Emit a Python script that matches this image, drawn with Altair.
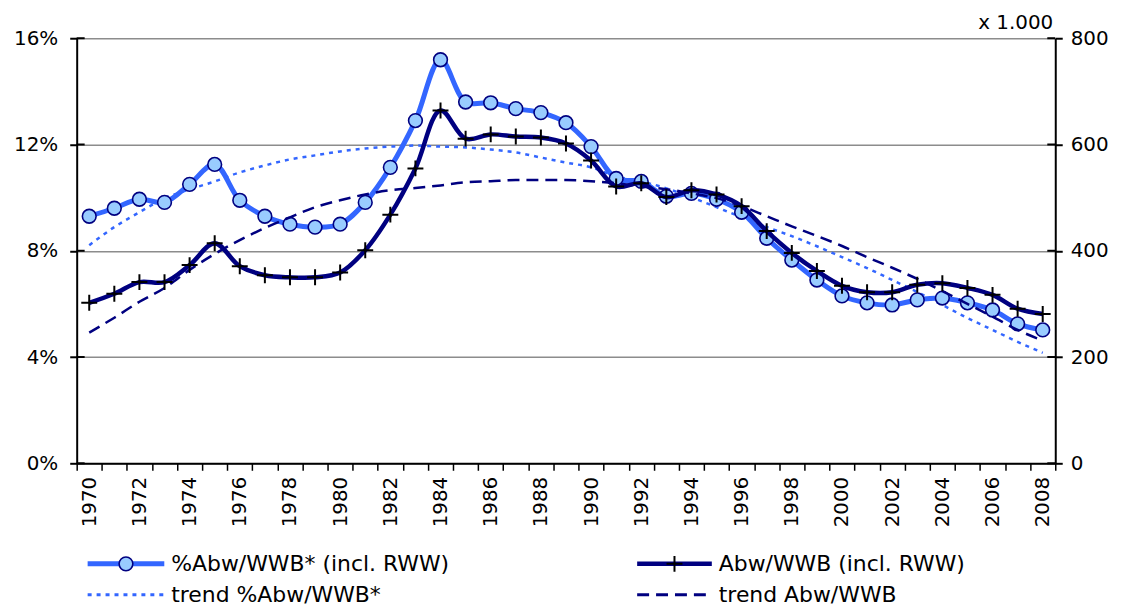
import altair as alt
import pandas as pd

years = list(range(1970, 2009))
pct = [9.3, 9.6, 9.94, 9.82, 10.5, 11.25, 9.9, 9.3, 9.0, 8.89,
       9.0, 9.82, 11.14, 12.9, 15.19, 13.6, 13.57, 13.35, 13.2, 12.82,
       11.92, 10.72, 10.61, 10.05, 10.16, 9.94, 9.45, 8.47, 7.65, 6.9,
       6.3, 6.04, 5.96, 6.15, 6.22, 6.04, 5.77, 5.25, 5.02]
abw = [302, 319, 341, 341, 373, 414, 371, 354, 350, 350,
       359, 401, 468, 555, 664, 611, 619, 615, 613, 602,
       570, 521, 527, 501, 514, 506, 484, 437, 396, 362,
       334, 322, 322, 336, 339, 330, 317, 291, 281]
trend_pct = [8.21, 8.89, 9.45, 9.97, 10.31, 10.61, 10.95, 11.21, 11.44, 11.59,
             11.74, 11.85, 11.92, 11.96, 11.92, 11.89, 11.81, 11.7, 11.51, 11.32,
             11.14, 10.8, 10.61, 10.35, 10.01, 9.64, 9.26, 8.89, 8.55, 8.17,
             7.76, 7.35, 6.9, 6.45, 5.96, 5.47, 5.02, 4.57, 4.16]
trend_abw = [246, 274, 304, 330, 364, 394, 420, 443, 463, 482,
             495, 506, 514, 518, 523, 529, 531, 533, 533, 533,
             531, 527, 521, 516, 508, 499, 484, 465, 446, 428,
             409, 388, 368, 347, 324, 300, 276, 251, 231]
left_ticks = [0, 4, 8, 12, 16]
right_ticks = [0, 200, 400, 600, 800]
legend_labels = ["%Abw/WWB* (incl. RWW)", "Abw/WWB (incl. RWW)",
                 "trend %Abw/WWB*", "trend Abw/WWB"]
unit_label = "x 1.000"

LIGHT = "#3366FF"
NAVY = "#000080"
FILL = "#99CCFF"
FONT = "DejaVu Sans"
W, H = 983, 427

df = pd.DataFrame({"year": years, "pct": pct, "abw": abw,
                   "tpct": trend_pct, "tabw": trend_abw})

X = alt.X("year:O",
          scale=alt.Scale(type="band", paddingInner=0, paddingOuter=0),
          bandPosition=0.5,
          axis=alt.Axis(title=None, tickBand="extent",
                        labelExpr="datum.value % 2 == 0 ? datum.label : ''",
                        labelAngle=270, labelFontSize=20, labelFont=FONT,
                        labelColor="black", labelPadding=6,
                        tickSize=7, tickColor="black", tickWidth=1.5,
                        domainColor="black", domainWidth=2, grid=False))

yl_scale = alt.Scale(domain=[0, 16], nice=False, zero=True)
yl_axis = alt.Axis(title=None, values=left_ticks, labelExpr="datum.value + '%'",
                   labelFontSize=20, labelFont=FONT, labelColor="black",
                   labelPadding=12, tickSize=7, tickColor="black", tickWidth=2,
                   domainColor="black", domainWidth=2, grid=True,
                   gridColor="#8c8c8c", gridWidth=1.5)
yr_scale = alt.Scale(domain=[0, 800], nice=False, zero=True)
yr_axis = alt.Axis(title=None, orient="right", values=right_ticks,
                   labelFontSize=20, labelFont=FONT, labelColor="black",
                   labelPadding=8, tickSize=7, tickColor="black", tickWidth=2,
                   domainColor="black", domainWidth=2, grid=False)

base = alt.Chart(df)

# left-axis group (percent)
trend_l = base.mark_line(color=LIGHT, strokeWidth=2.5, strokeDash=[4, 5],
                         interpolate="monotone").encode(
    x=X, y=alt.Y("tpct:Q", scale=yl_scale, axis=yl_axis))
line_l = base.mark_line(color=LIGHT, strokeWidth=5, interpolate="catmull-rom").encode(
    x=X, y=alt.Y("pct:Q", scale=yl_scale, axis=yl_axis))
pts_l = base.mark_point(shape="circle", filled=True, fill=FILL, stroke=NAVY,
                        strokeWidth=1.6, size=190, opacity=1).encode(
    x=X, y=alt.Y("pct:Q", scale=yl_scale, axis=yl_axis))
tick_l = alt.Chart(pd.DataFrame({"pct": left_ticks})).mark_rule(
    color="black", strokeWidth=2).encode(
    y=alt.Y("pct:Q", scale=yl_scale, axis=yl_axis),
    x=alt.value(0), x2=alt.value(8))
left = alt.layer(trend_l, line_l, pts_l, tick_l)

# right-axis group (x 1000)
trend_r = base.mark_line(color=NAVY, strokeWidth=2.5, strokeDash=[12, 7],
                         interpolate="monotone").encode(
    x=X, y=alt.Y("tabw:Q", scale=yr_scale, axis=yr_axis))
line_r = base.mark_line(color=NAVY, strokeWidth=4.5, interpolate="catmull-rom").encode(
    x=X, y=alt.Y("abw:Q", scale=yr_scale, axis=yr_axis))
pts_r = base.mark_point(shape="M-1,0H1M0,-1V1", filled=False, stroke="black",
                        strokeWidth=2, size=256, opacity=1).encode(
    x=X, y=alt.Y("abw:Q", scale=yr_scale, axis=yr_axis))
tick_r = alt.Chart(pd.DataFrame({"abw": right_ticks})).mark_rule(
    color="black", strokeWidth=2).encode(
    y=alt.Y("abw:Q", scale=yr_scale, axis=yr_axis),
    x=alt.value(W - 8), x2=alt.value(W))
right = alt.layer(trend_r, line_r, pts_r, tick_r)

# unit label and legend
def one(label):
    return alt.Chart(pd.DataFrame({"t": [label]}))

unit = one(unit_label).mark_text(align="right", baseline="middle", fontSize=20,
                                 font=FONT, color="black").encode(
    text="t:N", x=alt.value(981), y=alt.value(-15))

r1, r2 = 528, 559
lx1, lx2 = 11, 88
rx1, rx2 = 563, 638
leg = [
    one(legend_labels[0]).mark_rule(color=LIGHT, strokeWidth=5).encode(
        x=alt.value(lx1), x2=alt.value(lx2), y=alt.value(r1)),
    one(legend_labels[0]).mark_point(shape="circle", filled=True, fill=FILL,
                                     stroke=NAVY, strokeWidth=1.6, size=190,
                                     opacity=1).encode(
        x=alt.value((lx1 + lx2) / 2), y=alt.value(r1)),
    one(legend_labels[1]).mark_rule(color=NAVY, strokeWidth=4.5).encode(
        x=alt.value(rx1), x2=alt.value(rx2), y=alt.value(r1)),
    one(legend_labels[1]).mark_point(shape="M-1,0H1M0,-1V1", filled=False,
                                     stroke="black", strokeWidth=2, size=256,
                                     opacity=1).encode(
        x=alt.value((rx1 + rx2) / 2), y=alt.value(r1)),
    one(legend_labels[2]).mark_rule(color=LIGHT, strokeWidth=3,
                                    strokeDash=[4, 5]).encode(
        x=alt.value(lx1), x2=alt.value(lx2), y=alt.value(r2)),
    one(legend_labels[3]).mark_rule(color=NAVY, strokeWidth=3,
                                    strokeDash=[12, 7]).encode(
        x=alt.value(rx1), x2=alt.value(rx2), y=alt.value(r2)),
]
txt_pos = [(95, r1), (645, r1), (95, r2), (645, r2)]
for lab, (tx, ty) in zip(legend_labels, txt_pos):
    leg.append(one(lab).mark_text(align="left", baseline="middle", fontSize=22,
                                  font=FONT, color="black").encode(
        text="t:N", x=alt.value(tx), y=alt.value(ty)))

chart = alt.layer(left, right, unit, *leg).resolve_scale(
    y="independent"
).properties(
    width=W, height=H,
    autosize=alt.AutoSizeParams(type="none"),
    padding={"left": 69, "top": 29, "right": 58, "bottom": 146},
    background="white",
).configure_view(stroke=None)

chart.save("out.html", embed_options={"renderer": "svg", "actions": False})
